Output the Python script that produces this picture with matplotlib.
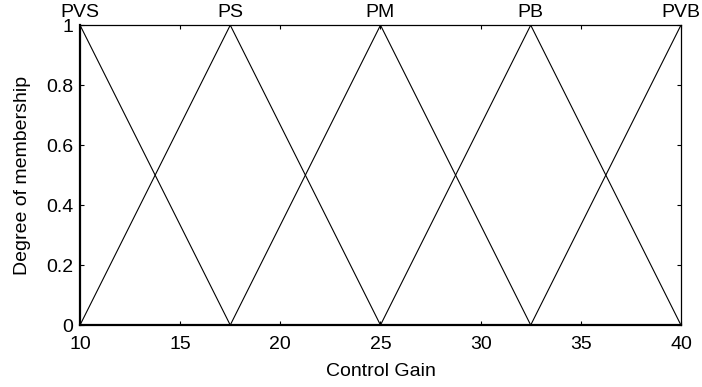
import matplotlib.pyplot as plt

plt.rcParams['font.family'] = ['Liberation Sans', 'DejaVu Sans']

# membership function parameters (triangles)
mf_names = ['PVS', 'PS', 'PM', 'PB', 'PVB']
mf_left = [2.5, 10, 17.5, 25, 32.5]
mf_peak = [10, 17.5, 25, 32.5, 40]
mf_right = [17.5, 25, 32.5, 40, 47.5]

x_ticks = [10, 15, 20, 25, 30, 35, 40]
y_ticks = [0, 0.2, 0.4, 0.6, 0.8, 1]
y_ticklabels = ['0', '0.2', '0.4', '0.6', '0.8', '1']

fs = 14

fig = plt.figure(figsize=(7.02, 3.87), dpi=100)
ax = fig.add_axes([0.114, 0.160, 0.856, 0.775])

for name, a, b, c in zip(mf_names, mf_left, mf_peak, mf_right):
    ax.plot([a, b, c], [0, 1, 0], color='black', lw=0.8)
    ax.text(b, 1.014, name, ha='center', va='bottom', fontsize=fs)

ax.set_xlim(10, 40)
ax.set_ylim(0, 1)
ax.set_xticks(x_ticks)
ax.set_yticks(y_ticks)
ax.set_yticklabels(y_ticklabels)
ax.tick_params(direction='in', length=3, width=0.8, labelsize=fs,
               top=True, right=True)
ax.tick_params(axis='x', pad=8)
ax.tick_params(axis='y', pad=5)
for side in ['left', 'bottom']:
    ax.spines[side].set_linewidth(1.6)
for side in ['top', 'right']:
    ax.spines[side].set_linewidth(0.9)

ax.set_xlabel('Control Gain', fontsize=fs, labelpad=7)
ax.set_ylabel('Degree of membership', fontsize=fs, labelpad=11)

fig.savefig('out.png', dpi=100)
